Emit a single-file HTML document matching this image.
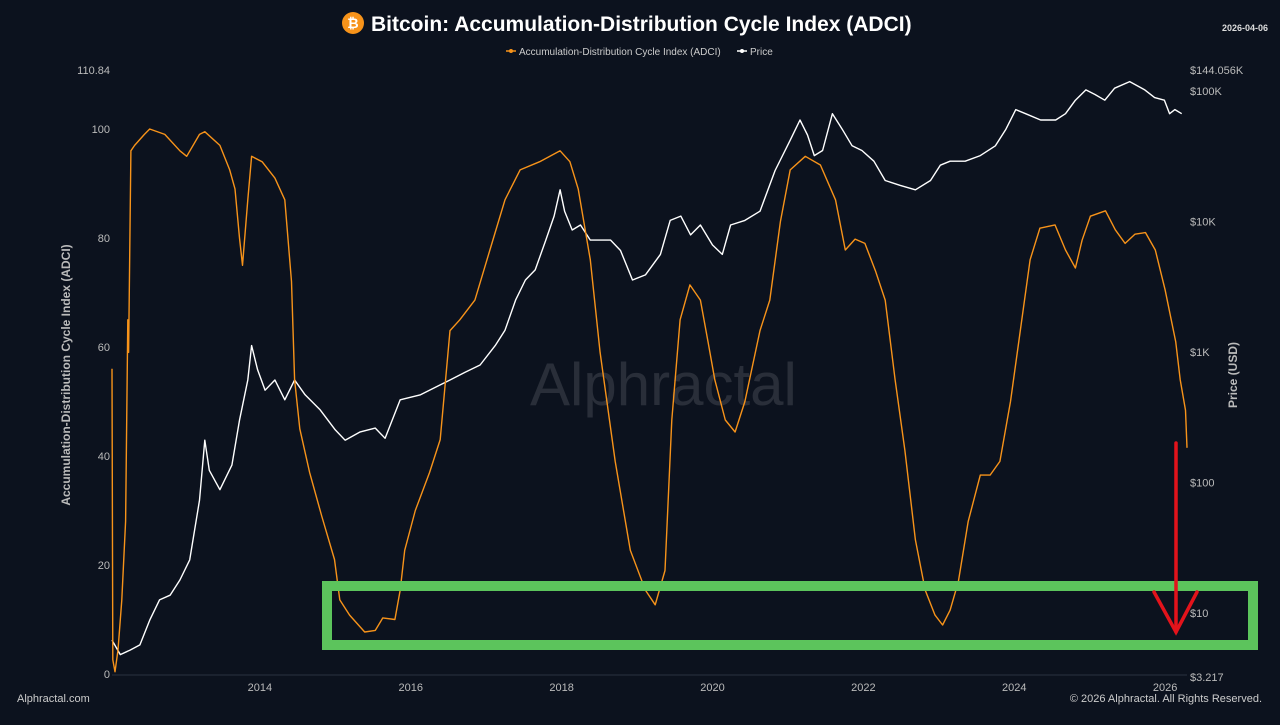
<!DOCTYPE html>
<html><head><meta charset="utf-8"><style>
html,body{margin:0;padding:0;background:#0c121e;}
body{width:1280px;height:720px;overflow:hidden;font-family:"Liberation Sans",sans-serif;}
svg text{font-family:"Liberation Sans",sans-serif;}
</style></head><body>
<svg id="chart" width="1280" height="720" viewBox="0 0 1280 720" xmlns="http://www.w3.org/2000/svg">
<rect x="0" y="0" width="1280" height="720" fill="#0c121e"/>
<g>
<circle cx="353" cy="23" r="11" fill="#f7931a"/>
<text x="353" y="28" font-size="14" font-weight="bold" fill="#fff" text-anchor="middle">₿</text>
<text x="371" y="31" font-size="21" font-weight="bold" fill="#ffffff">Bitcoin: Accumulation-Distribution Cycle Index (ADCI)</text>
</g>
<text x="1268" y="31" font-size="9" font-weight="bold" fill="#ddd" text-anchor="end">2026-04-06</text>
<g font-size="10" fill="#ccc">
<g><line x1="506" y1="51" x2="516" y2="51" stroke="#f7931a" stroke-width="1.5"/><circle cx="511" cy="51" r="2" fill="#f7931a"/><text x="519" y="55">Accumulation-Distribution Cycle Index (ADCI)</text></g>
<g><line x1="737" y1="51" x2="747" y2="51" stroke="#fff" stroke-width="1.5"/><circle cx="742" cy="51" r="2" fill="#fff"/><text x="750" y="55">Price</text></g>
</g>
<text x="530" y="405" font-size="60" fill="#ffffff" fill-opacity="0.12">Alphractal</text>
<g id="axes"></g>
<g id="series"></g>
<rect x="327" y="586" width="926" height="59" fill="none" stroke="#5cc45c" stroke-width="10"/>
<g stroke="#e3131b" stroke-width="3.5" fill="none" stroke-linecap="round">
<line x1="1176" y1="443" x2="1176" y2="632"/>
<polyline points="1154,592 1176,632 1197,592"/>
</g>
<text transform="translate(70,375) rotate(-90)" font-size="12" font-weight="bold" fill="#bbb" text-anchor="middle">Accumulation-Distribution Cycle Index (ADCI)</text>
<text transform="translate(1237,375) rotate(-90)" font-size="12" font-weight="bold" fill="#bbb" text-anchor="middle">Price (USD)</text>
<text x="17" y="702" font-size="11" fill="#ccc">Alphractal.com</text>
<text x="1262" y="702" font-size="11" fill="#ccc" text-anchor="end">© 2026 Alphractal. All Rights Reserved.</text>
</svg>
<script>
const adciDates=[2012.04,2012.05,2012.08,2012.12,2012.17,2012.22,2012.25,2012.26,2012.29,2012.34,2012.47,2012.54,2012.74,2012.94,2013.03,2013.20,2013.27,2013.47,2013.60,2013.67,2013.73,2013.77,2013.84,2013.89,2014.03,2014.20,2014.33,2014.42,2014.46,2014.53,2014.66,2014.82,2014.99,2015.06,2015.19,2015.39,2015.53,2015.63,2015.79,2015.86,2015.92,2016.06,2016.25,2016.39,2016.52,2016.65,2016.85,2017.05,2017.25,2017.45,2017.71,2017.98,2018.11,2018.22,2018.38,2018.51,2018.71,2018.91,2019.11,2019.24,2019.37,2019.46,2019.57,2019.70,2019.84,2019.94,2020.03,2020.17,2020.30,2020.43,2020.63,2020.76,2020.90,2021.03,2021.23,2021.43,2021.63,2021.76,2021.89,2022.02,2022.16,2022.29,2022.42,2022.55,2022.69,2022.82,2022.95,2023.05,2023.15,2023.26,2023.39,2023.55,2023.68,2023.81,2023.95,2024.08,2024.21,2024.34,2024.54,2024.68,2024.81,2024.90,2025.01,2025.21,2025.34,2025.47,2025.60,2025.74,2025.87,2026.00,2026.14,2026.20,2026.27,2026.29];
const adciValues=[56,2.6,0.4,4.4,13.6,28,65,59,96,97,99,100,99,96,95,99,99.5,97,92.5,89,80,75,87,95,94,91,87,72,54,45,37,29,21,13.6,10.8,7.7,8,10.3,10,15.4,22.7,30,37,43,63,65,68.6,77.8,87,92.5,94,96,94,89,76,59,39,22.7,15.4,12.7,19,46.6,65,71.4,68.6,61,54,46.6,44.4,50,63,68.6,83,92.5,95,93.4,87,77.8,79.8,79,74,68.6,54,41,24.6,15.4,10.8,9,11.7,17,28,36.5,36.5,39,50,63,76,81.8,82.4,77.8,74.5,79.6,84,85,81.5,79,80.7,81,77.8,70.5,61,54,48.4,41.5];
const priceDates=[2012.04,2012.15,2012.28,2012.41,2012.54,2012.67,2012.81,2012.94,2013.07,2013.20,2013.27,2013.33,2013.47,2013.63,2013.73,2013.84,2013.89,2013.97,2014.07,2014.20,2014.33,2014.46,2014.60,2014.80,2015.00,2015.13,2015.33,2015.53,2015.66,2015.86,2016.13,2016.39,2016.52,2016.72,2016.92,2017.12,2017.25,2017.39,2017.52,2017.65,2017.79,2017.90,2017.98,2018.04,2018.14,2018.25,2018.38,2018.51,2018.65,2018.78,2018.94,2019.11,2019.31,2019.44,2019.58,2019.71,2019.84,2020.00,2020.13,2020.24,2020.43,2020.63,2020.83,2021.03,2021.16,2021.26,2021.35,2021.46,2021.59,2021.72,2021.85,2021.98,2022.14,2022.29,2022.49,2022.69,2022.89,2023.02,2023.15,2023.35,2023.55,2023.75,2023.89,2024.02,2024.15,2024.35,2024.55,2024.68,2024.81,2024.95,2025.07,2025.20,2025.33,2025.53,2025.73,2025.86,2025.99,2026.06,2026.13,2026.22];
const priceValues=[6.2,4.8,5.2,5.7,8.8,12.6,13.7,17.9,25.5,73,211,124,88,136,300,610,1120,730,510,610,430,610,470,360,253,211,244,261,218,430,470,560,610,700,795,1120,1470,2500,3560,4260,7200,11000,17500,12000,8600,9400,7200,7200,7200,6000,3560,3900,5600,10200,11000,7900,9400,6600,5600,9400,10200,12000,24600,42000,60000,46000,32000,35000,67000,51000,38000,35000,29000,20600,18900,17500,20600,27000,29000,29000,32000,38000,51000,72000,67000,60000,60000,67000,85000,102000,94000,85000,105000,118000,102000,89000,85000,67000,72000,67000];
const xTicks=[2014,2016,2018,2020,2022,2024,2026];
const yTicksLeft=[0,20,40,60,80,100];
const yTicksRight=[10,100,1000,10000,100000];
const yTickRightLabels=["$10","$100","$1K","$10K","$100K"];

const NS="http://www.w3.org/2000/svg";
const X0=112,X1=1187,T0=2012.04,T1=2026.29;
function xs(t){return X0+(t-T0)/(T1-T0)*(X1-X0);}
function yl(v){return 674-v*5.45;}
function yr(p){return 613-(Math.log10(p)-1)*130.5;}
function mk(tag,attrs,parent){const e=document.createElementNS(NS,tag);for(const k in attrs)e.setAttribute(k,attrs[k]);parent.appendChild(e);return e;}
const axes=document.getElementById('axes'),series=document.getElementById('series');
const base=mk('line',{x1:112,y1:675,x2:1187,y2:675,stroke:'#2a3140','stroke-width':1},axes);


xTicks.forEach(t=>{const e=mk('text',{x:xs(t),y:691,'font-size':11,fill:'#bbb','text-anchor':'middle'},axes);e.textContent=t;

});
yTicksLeft.forEach(v=>{const e=mk('text',{x:110,y:yl(v)+4,'font-size':11,fill:'#bbb','text-anchor':'end'},axes);e.textContent=v;

});
const topL=mk('text',{x:110,y:74,'font-size':11,fill:'#bbb','text-anchor':'end'},axes);topL.textContent='110.84';


yTicksRight.forEach((p,i)=>{const e=mk('text',{x:1190,y:yr(p)+4,'font-size':11,fill:'#bbb'},axes);e.textContent=yTickRightLabels[i];

});
const rmax=mk('text',{x:1190,y:74,'font-size':11,fill:'#bbb'},axes);rmax.textContent='$144.056K';


const rmin=mk('text',{x:1190,y:681,'font-size':11,fill:'#bbb'},axes);rmin.textContent='$3.217';


const pp=mk('polyline',{points:priceDates.map((t,i)=>xs(t).toFixed(1)+','+yr(priceValues[i]).toFixed(1)).join(' '),fill:'none',stroke:'#ffffff','stroke-width':1.4,'stroke-linejoin':'round'},series);


const ap=mk('polyline',{points:adciDates.map((t,i)=>xs(t).toFixed(1)+','+yl(adciValues[i]).toFixed(1)).join(' '),fill:'none',stroke:'#f7931a','stroke-width':1.4,'stroke-linejoin':'round'},series);


</script>
</body></html>
